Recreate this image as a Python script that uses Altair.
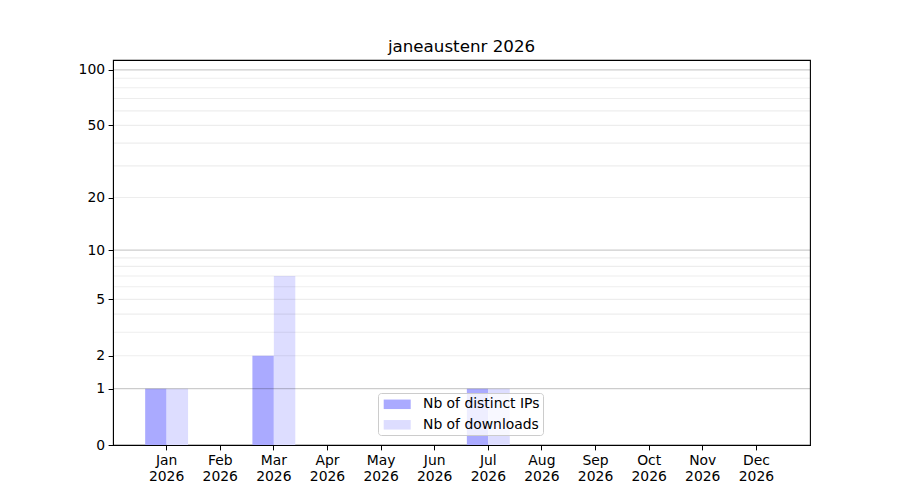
import altair as alt
import pandas as pd

# monthly stats for the package
months = ["Jan 2026", "Feb 2026", "Mar 2026", "Apr 2026", "May 2026", "Jun 2026",
          "Jul 2026", "Aug 2026", "Sep 2026", "Oct 2026", "Nov 2026", "Dec 2026"]
distinct_ips = [1, 0, 2, 0, 0, 0, 1, 0, 0, 0, 0, 0]
downloads = [1, 0, 7, 0, 0, 0, 1, 0, 0, 0, 0, 0]

series = ["Nb of distinct IPs", "Nb of downloads"]
series_colors = ["#aaaaff", "#ddddff"]

y_ticks = [0, 1, 2, 5, 10, 20, 50, 100]
major_grid = [1, 10, 100]
minor_grid = [2, 3, 4, 5, 6, 7, 8, 9, 20, 30, 40, 50, 60, 70, 80, 90]

FONT = "DejaVu Sans"

bars_df = pd.DataFrame({
    "Month": months * 2,
    "Series": [series[0]] * len(months) + [series[1]] * len(months),
    "Count": distinct_ips + downloads,
})
major_df = pd.DataFrame({"v": major_grid})
minor_df = pd.DataFrame({"v": minor_grid})

y_scale = alt.Scale(type="symlog", constant=1, domain=[0, 113], nice=False)

bars = alt.Chart(bars_df).mark_bar().encode(
    x=alt.X("Month:N", sort=months, title=None,
            scale=alt.Scale(paddingInner=0.2, paddingOuter=0.6),
            axis=alt.Axis(labelExpr="split(datum.label, ' ')", labelAngle=0,
                          labelLineHeight=16, labelFontSize=13.9, labelFont=FONT,
                          labelColor="black", tickColor="black", domainColor="black",
                          tickSize=4.9, labelPadding=3.5, domain=True)),
    xOffset=alt.XOffset("Series:N", sort=series),
    y=alt.Y("Count:Q", scale=y_scale, title=None,
            axis=alt.Axis(values=y_ticks, format="d", grid=False,
                          labelFontSize=13.9, labelFont=FONT, labelColor="black",
                          tickColor="black", domainColor="black",
                          tickSize=4.9, labelPadding=3.5)),
    color=alt.Color("Series:N", sort=series,
                    scale=alt.Scale(domain=series, range=series_colors),
                    legend=alt.Legend(
                        title=None, orient="none", legendX=265, legendY=333,
                        fillColor="rgba(255,255,255,0.8)", strokeColor="#cccccc",
                        cornerRadius=3, padding=3.3,
                        symbolType="M-0.7,-0.594H2.675V0.594H-0.7Z",
                        symbolSize=256, symbolStrokeWidth=0, symbolOpacity=1,
                        labelFontSize=13.9, labelFont=FONT, labelColor="black",
                        labelOffset=25.7, rowPadding=5.5)),
)

major = alt.Chart(major_df).mark_rule(color="black", opacity=0.2, strokeWidth=1.1).encode(
    y=alt.Y("v:Q", scale=y_scale)
)
minor = alt.Chart(minor_df).mark_rule(color="black", opacity=0.07, strokeWidth=1.1).encode(
    y=alt.Y("v:Q", scale=y_scale)
)

chart = alt.layer(bars, minor, major).properties(
    width=697,
    height=385,
    title=alt.TitleParams("janeaustenr 2026", font=FONT, fontSize=16.7,
                          fontWeight="normal", color="black", anchor="middle",
                          baseline="alphabetic", offset=9, dy=18, frame="group"),
    autosize=alt.AutoSizeParams(type="none"),
    padding={"left": 105, "top": 52, "right": 82, "bottom": 47},
).configure(
    background="white"
).configure_view(
    stroke="black", strokeWidth=1.1
)

chart.save("out.html", embed_options={"renderer": "svg", "actions": False})
